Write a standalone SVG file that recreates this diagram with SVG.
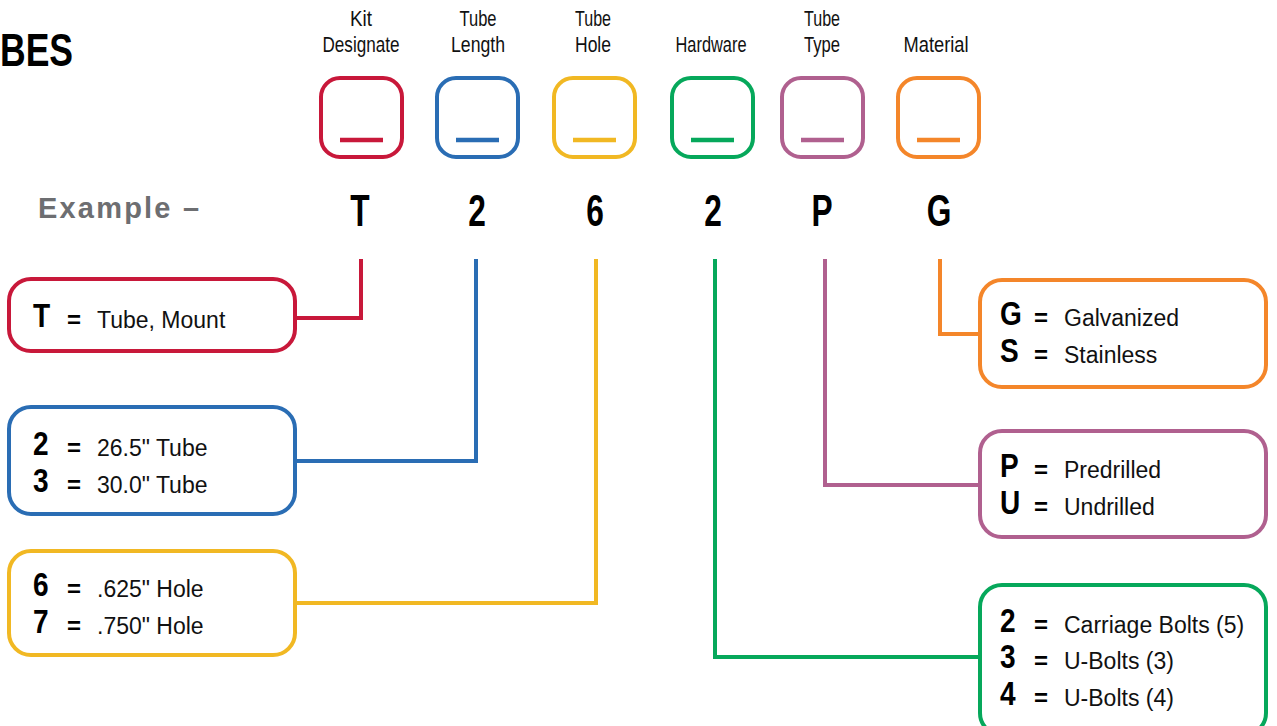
<svg xmlns="http://www.w3.org/2000/svg" width="1277" height="726" viewBox="0 0 1277 726">
<style>
.hdr{font-family:"Liberation Sans",Arial,sans-serif;font-size:22px;fill:#111;text-anchor:middle}
.ex{font-family:"Liberation Sans",Arial,sans-serif;font-size:44px;font-weight:700;fill:#000;text-anchor:middle}
.key{font-family:"Liberation Sans",Arial,sans-serif;font-size:33px;font-weight:700;fill:#000}
.eq{font-family:"Liberation Sans",Arial,sans-serif;font-size:24px;font-weight:700;fill:#000}
.desc{font-family:"Liberation Sans",Arial,sans-serif;font-size:23px;fill:#111}
.box{fill:#fff;stroke-width:4}
.ul{stroke-width:4.5}
.con{fill:none;stroke-width:4;stroke-linecap:butt;stroke-linejoin:miter}
.red{stroke:#c8183a}.blue{stroke:#2a6db4}.yel{stroke:#f1b823}.grn{stroke:#06a85b}.pur{stroke:#b0608f}.org{stroke:#f4862a}
</style>
<rect width="1277" height="726" fill="#fff"/>
<text x="0" y="66" font-family="Liberation Sans,Arial,sans-serif" font-size="47" font-weight="900" fill="#000" textLength="73" lengthAdjust="spacingAndGlyphs">BES</text>
<text x="38" y="218" font-family="Liberation Sans,Arial,sans-serif" font-size="29" font-weight="700" fill="#6d6e71" letter-spacing="2.2">Example –</text>

<g id="connectors">
<polyline class="con red" points="361,259 361,318 296,318"/>
<polyline class="con blue" points="476,259 476,461 296,461"/>
<polyline class="con yel" points="596,259 596,603 296,603"/>
<polyline class="con grn" points="715,259 715,657 980,657"/>
<polyline class="con pur" points="825,259 825,485 980,485"/>
<polyline class="con org" points="940,259 940,334 980,334"/>
</g>

<g id="kit-designate">
<text class="hdr" x="361" y="26" textLength="22" lengthAdjust="spacingAndGlyphs">Kit</text>
<text class="hdr" x="361" y="52" textLength="77" lengthAdjust="spacingAndGlyphs">Designate</text>
<rect class="box red" x="321" y="78" width="81" height="79" rx="19"/>
<line class="ul red" x1="340" y1="140" x2="383" y2="140"/>
<text class="ex" transform="translate(360,226) scale(0.72,1)">T</text>
</g>
<g id="tube-length">
<text class="hdr" x="478" y="26" textLength="37" lengthAdjust="spacingAndGlyphs">Tube</text>
<text class="hdr" x="478" y="52" textLength="54" lengthAdjust="spacingAndGlyphs">Length</text>
<rect class="box blue" x="437" y="78" width="81" height="79" rx="19"/>
<line class="ul blue" x1="456" y1="140" x2="499" y2="140"/>
<text class="ex" transform="translate(477,226) scale(0.72,1)">2</text>
</g>
<g id="tube-hole">
<text class="hdr" x="593" y="26" textLength="36" lengthAdjust="spacingAndGlyphs">Tube</text>
<text class="hdr" x="593" y="52" textLength="36" lengthAdjust="spacingAndGlyphs">Hole</text>
<rect class="box yel" x="554" y="78" width="81" height="79" rx="19"/>
<line class="ul yel" x1="573" y1="140" x2="616" y2="140"/>
<text class="ex" transform="translate(595,226) scale(0.72,1)">6</text>
</g>
<g id="hardware">
<text class="hdr" x="711" y="52" textLength="71" lengthAdjust="spacingAndGlyphs">Hardware</text>
<rect class="box grn" x="672" y="78" width="81" height="79" rx="19"/>
<line class="ul grn" x1="691" y1="140" x2="734" y2="140"/>
<text class="ex" transform="translate(713,226) scale(0.72,1)">2</text>
</g>
<g id="tube-type">
<text class="hdr" x="822" y="26" textLength="36" lengthAdjust="spacingAndGlyphs">Tube</text>
<text class="hdr" x="822" y="52" textLength="36" lengthAdjust="spacingAndGlyphs">Type</text>
<rect class="box pur" x="782" y="78" width="81" height="79" rx="19"/>
<line class="ul pur" x1="801" y1="140" x2="844" y2="140"/>
<text class="ex" transform="translate(822,226) scale(0.72,1)">P</text>
</g>
<g id="material">
<text class="hdr" x="936" y="52" textLength="65" lengthAdjust="spacingAndGlyphs">Material</text>
<rect class="box org" x="898" y="78" width="81" height="79" rx="19"/>
<line class="ul org" x1="917" y1="140" x2="960" y2="140"/>
<text class="ex" transform="translate(939,226) scale(0.72,1)">G</text>
</g>

<g id="key-kit">
<rect class="box red" x="9" y="279" width="286" height="72" rx="22"/>
<text class="key" transform="translate(33,327) scale(0.85,1)">T</text>
<text class="eq" x="67" y="328">=</text>
<text class="desc" x="97" y="328">Tube, Mount</text>
</g>
<g id="key-length">
<rect class="box blue" x="9" y="407" width="286" height="107" rx="22"/>
<text class="key" transform="translate(33,455) scale(0.85,1)">2</text>
<text class="eq" x="67" y="456">=</text>
<text class="desc" x="97" y="456">26.5" Tube</text>
<text class="key" transform="translate(33,492) scale(0.85,1)">3</text>
<text class="eq" x="67" y="493">=</text>
<text class="desc" x="97" y="493">30.0" Tube</text>
</g>
<g id="key-hole">
<rect class="box yel" x="9" y="551" width="286" height="104" rx="22"/>
<text class="key" transform="translate(33,596) scale(0.85,1)">6</text>
<text class="eq" x="67" y="597">=</text>
<text class="desc" x="97" y="597">.625" Hole</text>
<text class="key" transform="translate(33,633) scale(0.85,1)">7</text>
<text class="eq" x="67" y="634">=</text>
<text class="desc" x="97" y="634">.750" Hole</text>
</g>
<g id="key-material">
<rect class="box org" x="980" y="280" width="286" height="107" rx="22"/>
<text class="key" transform="translate(1000,325) scale(0.85,1)">G</text>
<text class="eq" x="1034" y="326">=</text>
<text class="desc" x="1064" y="326">Galvanized</text>
<text class="key" transform="translate(1000,362) scale(0.85,1)">S</text>
<text class="eq" x="1034" y="363">=</text>
<text class="desc" x="1064" y="363">Stainless</text>
</g>
<g id="key-type">
<rect class="box pur" x="980" y="431" width="286" height="106" rx="22"/>
<text class="key" transform="translate(1000,477) scale(0.85,1)">P</text>
<text class="eq" x="1034" y="478">=</text>
<text class="desc" x="1064" y="478">Predrilled</text>
<text class="key" transform="translate(1000,514) scale(0.85,1)">U</text>
<text class="eq" x="1034" y="515">=</text>
<text class="desc" x="1064" y="515">Undrilled</text>
</g>
<g id="key-hardware">
<rect class="box grn" x="980" y="585" width="286" height="150" rx="22"/>
<text class="key" transform="translate(1000,632) scale(0.85,1)">2</text>
<text class="eq" x="1034" y="633">=</text>
<text class="desc" x="1064" y="633">Carriage Bolts (5)</text>
<text class="key" transform="translate(1000,668) scale(0.85,1)">3</text>
<text class="eq" x="1034" y="669">=</text>
<text class="desc" x="1064" y="669">U-Bolts (3)</text>
<text class="key" transform="translate(1000,705) scale(0.85,1)">4</text>
<text class="eq" x="1034" y="706">=</text>
<text class="desc" x="1064" y="706">U-Bolts (4)</text>
</g>
</svg>
